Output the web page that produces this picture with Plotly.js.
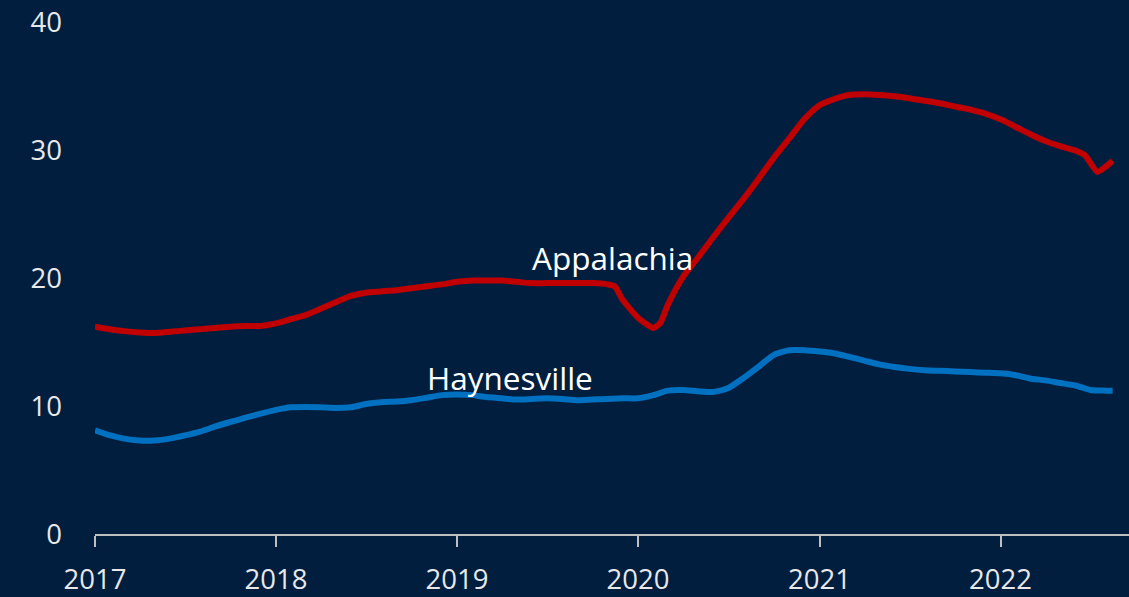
<!DOCTYPE html>
<html>
<head>
<meta charset="utf-8">
<script src="https://cdn.plot.ly/plotly-3.0.1.min.js"></script>
<style>
html,body{margin:0;padding:0;background:#021E3F;}
#chart{width:1129px;height:597px;}
</style>
</head>
<body>
<div id="chart"></div>
<script>
// Appalachia (red)
const appDates = [
  "2017-01-01","2017-02-01","2017-03-01","2017-04-01","2017-05-01","2017-06-01","2017-07-01","2017-08-01","2017-09-01","2017-10-01","2017-11-01","2017-12-01",
  "2018-01-01","2018-02-01","2018-03-01","2018-04-01","2018-05-01","2018-06-01","2018-07-01","2018-08-01","2018-09-01","2018-10-01","2018-11-01","2018-12-01",
  "2019-01-01","2019-02-01","2019-03-01","2019-04-01","2019-05-01","2019-06-01","2019-07-01","2019-08-01","2019-09-01","2019-10-01","2019-11-01","2019-11-15","2019-12-01",
  "2020-01-01","2020-02-01","2020-02-15","2020-03-01","2020-04-01","2020-05-01","2020-06-01","2020-07-01","2020-08-01","2020-09-01","2020-10-01","2020-11-01","2020-12-01",
  "2021-01-01","2021-02-01","2021-03-01","2021-04-01","2021-05-01","2021-06-01","2021-07-01","2021-08-01","2021-09-01","2021-10-01","2021-11-01","2021-12-01",
  "2022-01-01","2022-02-01","2022-03-01","2022-04-01","2022-05-01","2022-06-01","2022-06-20","2022-07-15","2022-08-01","2022-08-15"
];
const appValues = [
  16.2,16.0,15.85,15.75,15.7,15.8,15.9,16.0,16.1,16.2,16.25,16.25,
  16.45,16.8,17.1,17.6,18.1,18.6,18.85,18.95,19.05,19.2,19.35,19.5,
  19.7,19.8,19.8,19.8,19.7,19.6,19.6,19.6,19.6,19.6,19.5,19.35,18.3,
  16.9,16.1,16.5,17.9,20.1,21.6,23.2,24.7,26.2,27.8,29.4,30.9,32.4,
  33.5,34.0,34.3,34.35,34.3,34.2,34.05,33.85,33.65,33.4,33.15,32.85,
  32.4,31.8,31.25,30.7,30.3,29.95,29.6,28.3,28.7,29.15
];

// Haynesville (blue)
const hayDates = [
  "2017-01-01","2017-02-01","2017-03-01","2017-04-01","2017-05-01","2017-06-01","2017-07-01","2017-08-01","2017-09-01","2017-10-01","2017-11-01","2017-12-01",
  "2018-01-01","2018-02-01","2018-03-01","2018-04-01","2018-05-01","2018-06-01","2018-07-01","2018-08-01","2018-09-01","2018-10-01","2018-11-01","2018-12-01",
  "2019-01-01","2019-02-01","2019-03-01","2019-04-01","2019-05-01","2019-06-01","2019-07-01","2019-08-01","2019-09-01","2019-10-01","2019-11-01","2019-12-01",
  "2020-01-01","2020-02-01","2020-03-01","2020-04-01","2020-05-01","2020-06-01","2020-07-01","2020-08-01","2020-09-01","2020-10-01","2020-11-01","2020-12-01",
  "2021-01-01","2021-02-01","2021-03-01","2021-04-01","2021-05-01","2021-06-01","2021-07-01","2021-08-01","2021-09-01","2021-10-01","2021-11-01","2021-12-01",
  "2022-01-01","2022-02-01","2022-03-01","2022-04-01","2022-05-01","2022-06-01","2022-07-01","2022-08-01","2022-08-15"
];
const hayValues = [
  8.1,7.7,7.45,7.3,7.3,7.45,7.7,8.0,8.4,8.75,9.1,9.4,
  9.7,9.9,9.92,9.9,9.85,9.9,10.15,10.3,10.35,10.45,10.65,10.85,
  10.9,10.85,10.7,10.6,10.5,10.55,10.6,10.55,10.45,10.5,10.55,10.6,
  10.6,10.85,11.2,11.25,11.15,11.1,11.4,12.2,13.1,14.0,14.35,14.35,
  14.25,14.1,13.85,13.55,13.25,13.05,12.9,12.8,12.75,12.7,12.65,12.6,
  12.55,12.4,12.15,12.0,11.8,11.6,11.25,11.2,11.2
];

const seriesNames = ["Appalachia","Haynesville"];
const yTickVals = [0,10,20,30,40];
const xTickVals = ["2017-01-01","2018-01-01","2019-01-01","2020-01-01","2021-01-01","2022-01-01"];
const xTickText = ["2017","2018","2019","2020","2021","2022"];

const traces = [
  {x: appDates, y: appValues, name: seriesNames[0], type: "scatter", mode: "lines",
   line: {color: "#C00000", width: 6, shape: "spline", smoothing: 0.6}},
  {x: hayDates, y: hayValues, name: seriesNames[1], type: "scatter", mode: "lines",
   line: {color: "#0070C0", width: 6, shape: "spline", smoothing: 0.6}}
];

const layout = {
  width: 1129, height: 597,
  paper_bgcolor: "#021E3F", plot_bgcolor: "#021E3F",
  margin: {l: 95, r: 0, t: 22, b: 63},
  showlegend: false,
  font: {family: "Open Sans, sans-serif", color: "#E8E8E8", size: 27},
  xaxis: {
    type: "date",
    range: ["2017-01-01", "2022-09-17"],
    tickvals: xTickVals, ticktext: xTickText,
    showgrid: false, zeroline: false,
    showline: true, linecolor: "#BFBFBF", linewidth: 2,
    ticks: "outside", ticklen: 11, tickwidth: 2, tickcolor: "#BFBFBF",
    ticklabelstandoff: 9,
    tickfont: {size: 27.5, color: "#E8E8E8"}
  },
  yaxis: {
    range: [0, 40],
    tickvals: yTickVals,
    showgrid: false, zeroline: false, showline: false,
    ticks: "", ticklabelstandoff: 32,
    tickfont: {size: 27.5, color: "#E8E8E8"}
  },
  annotations: [
    {x: "2019-11-10", y: 21.6, xref: "x", yref: "y", text: seriesNames[0], showarrow: false,
     font: {size: 31.5, color: "#FFFFFF", family: "Open Sans, sans-serif"}},
    {x: "2019-04-18", y: 12.2, xref: "x", yref: "y", text: seriesNames[1], showarrow: false,
     font: {size: 31.5, color: "#FFFFFF", family: "Open Sans, sans-serif"}}
  ]
};

Plotly.newPlot("chart", traces, layout, {displayModeBar: false, staticPlot: true});
</script>
</body>
</html>
